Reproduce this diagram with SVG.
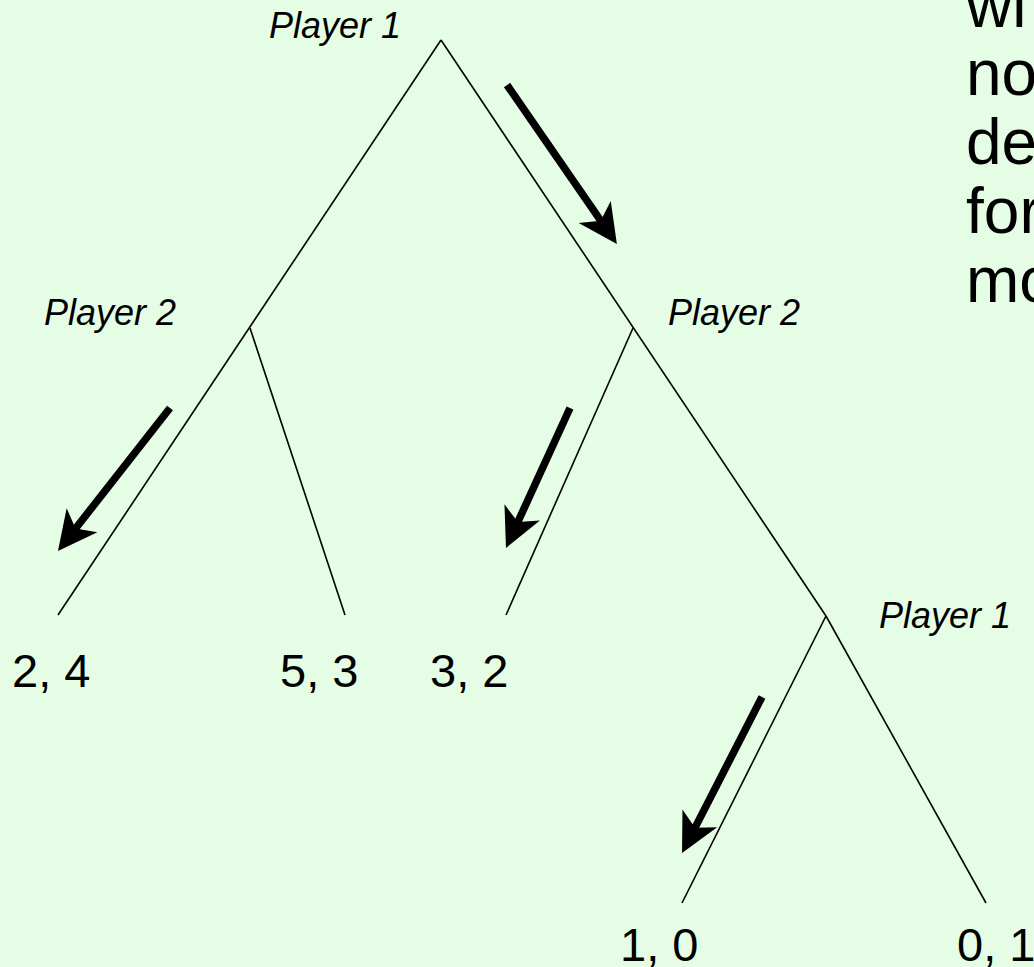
<svg xmlns="http://www.w3.org/2000/svg" width="1034" height="967" viewBox="0 0 1034 967">
<defs>
<style>
.edge{stroke:#000;stroke-width:1.6;fill:none;stroke-linecap:butt}
.arrow{stroke:#000;stroke-width:7.5;fill:none;marker-end:url(#ah)}
.player{font-family:"Liberation Sans",Arial,sans-serif;font-style:italic;font-size:36px;fill:#000}
.payoff{font-family:"Liberation Sans",Arial,sans-serif;font-size:47px;fill:#000}
.note{font-family:"Liberation Sans",Arial,sans-serif;font-size:64px;fill:#000}
</style>
<marker id="ah" markerUnits="userSpaceOnUse" markerWidth="42" markerHeight="42" viewBox="0 0 42 42" refX="15" refY="21" orient="auto">
<path d="M41,21 L2,1.5 L12.5,21 L2,40.5 Z" fill="#000"/>
</marker>
</defs>
<rect x="0" y="0" width="1034" height="967" fill="#E4FDE4"/>

<g id="connectors">
<line class="edge" x1="441" y1="40" x2="58" y2="615"/>
<line class="edge" x1="441" y1="40" x2="826" y2="616"/>
<line class="edge" x1="250" y1="328" x2="345" y2="615"/>
<line class="edge" x1="633" y1="328" x2="506" y2="615"/>
<line class="edge" x1="826" y1="616" x2="682" y2="903"/>
<line class="edge" x1="826" y1="616" x2="986" y2="903"/>
</g>

<g id="arrows">
<line class="arrow" x1="507" y1="85" x2="602.1" y2="222.7"/>
<line class="arrow" x1="170" y1="408" x2="74" y2="530.5"/>
<line class="arrow" x1="570" y1="408" x2="516.8" y2="524.3"/>
<line class="arrow" x1="762" y1="697" x2="693.9" y2="829.9"/>
</g>

<g id="node-root">
<text class="player" x="269" y="38">Player 1</text>
</g>
<g id="node-p2-left">
<text class="player" x="44" y="325">Player 2</text>
</g>
<g id="node-p2-right">
<text class="player" x="668" y="325">Player 2</text>
</g>
<g id="node-p1-bottom">
<text class="player" x="879" y="628">Player 1</text>
</g>

<g id="leaf-2-4"><text class="payoff" x="12" y="687">2, 4</text></g>
<g id="leaf-5-3"><text class="payoff" x="280" y="687">5, 3</text></g>
<g id="leaf-3-2"><text class="payoff" x="430" y="687">3, 2</text></g>
<g id="leaf-1-0"><text class="payoff" x="620" y="961">1, 0</text></g>
<g id="leaf-0-1"><text class="payoff" x="957" y="961">0, 1</text></g>

<g id="side-note">
<text class="note" x="966" y="27">wi</text>
<text class="note" x="966" y="95">no</text>
<text class="note" x="966" y="164">de</text>
<text class="note" x="966" y="233">for</text>
<text class="note" x="966" y="302">mo</text>
</g>
</svg>
